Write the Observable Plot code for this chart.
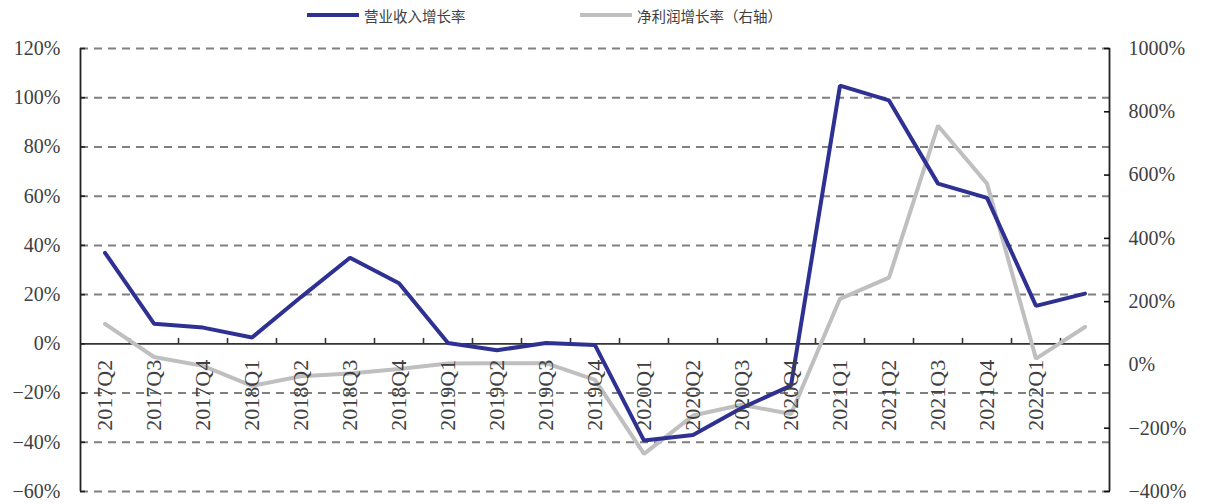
<!DOCTYPE html>
<html>
<head>
<meta charset="utf-8">
<script src="https://cdn.jsdelivr.net/npm/d3@7"></script>
<script src="https://cdn.jsdelivr.net/npm/@observablehq/plot@0.6"></script>
<style>
  html, body { margin: 0; padding: 0; background: #fff; }
  #wrap { position: relative; width: 1205px; height: 504px; overflow: hidden; }
  #chart { position: absolute; left: 0; top: 0; }
  .leg { position: absolute; top: 4px; height: 22px; display: flex; align-items: center;
         font-family: "Noto Sans CJK SC", sans-serif; font-size: 14.5px; color: #404040; }
  .leg .sw { width: 52px; height: 4px; margin-right: 5px; }
</style>
</head>
<body>
<div id="wrap">
  <div id="chart"></div>
  <div class="leg" style="left:307px"><span class="sw" style="background:#2E3192"></span><span>营业收入增长率</span></div>
  <div class="leg" style="left:580px"><span class="sw" style="background:#BFBFBF"></span><span>净利润增长率（右轴）</span></div>
</div>
<script>
// Categories (quarters); the last one carries no tick label in the original
const quarters = ["2017Q2","2017Q3","2017Q4","2018Q1","2018Q2","2018Q3","2018Q4",
  "2019Q1","2019Q2","2019Q3","2019Q4","2020Q1","2020Q2","2020Q3","2020Q4",
  "2021Q1","2021Q2","2021Q3","2021Q4","2022Q1","2022Q2"];
const tickLabels = ["2017Q2","2017Q3","2017Q4","2018Q1","2018Q2","2018Q3","2018Q4",
  "2019Q1","2019Q2","2019Q3","2019Q4","2020Q1","2020Q2","2020Q3","2020Q4",
  "2021Q1","2021Q2","2021Q3","2021Q4","2022Q1"];
// 营业收入增长率 (%), left axis
const revenueGrowth = [37, 8.2, 6.6, 2.6, 19, 35, 24.6, 0.3, -2.6, 0.3, -0.5,
  -39.3, -37, -26, -17, 104.9, 98.9, 65.1, 59.3, 15.4, 20.4];
// 净利润增长率 (%), right axis
const profitGrowth = [130, 25, -3, -66, -36, -27, -13, 4.5, 5.5, 5.5, -47,
  -281, -160, -126, -155, 209, 276, 756, 573, 20, 120];
const leftTicks = [-60, -40, -20, 0, 20, 40, 60, 80, 100, 120];
const rightTicks = [-400, -200, 0, 200, 400, 600, 800, 1000];
const leftDomain = [-60, 120];
const rightDomain = [-400, 1000];

const toLeft = r => leftDomain[0] + (r - rightDomain[0]) * (leftDomain[1] - leftDomain[0]) / (rightDomain[1] - rightDomain[0]);
const toRight = l => rightDomain[0] + (l - leftDomain[0]) * (rightDomain[1] - rightDomain[0]) / (leftDomain[1] - leftDomain[0]);
const pct = v => (v < 0 ? "\u2212" + Math.abs(v) : String(v)) + "%";

const boundaries = tickLabels.map((q, i) => i + 0.5);
const numFont = "'Liberation Serif', 'DejaVu Serif', serif";

const chart = Plot.plot({
  width: 1205,
  height: 504,
  marginTop: 48,
  marginBottom: 13,
  marginLeft: 80,
  marginRight: 96,
  x: {type: "linear", domain: [-0.5, quarters.length - 0.5], axis: null},
  y: {type: "linear", domain: leftDomain, axis: null},
  style: {background: "#fff", overflow: "visible"},
  marks: [
    Plot.ruleY(leftTicks.filter(d => d !== 0), {stroke: "#808080", strokeWidth: 2, strokeDasharray: "8,6"}),
    Plot.ruleY([0], {stroke: "#333", strokeWidth: 1.8}),
    Plot.ruleX(boundaries, {y1: 0, y2: 2.2, stroke: "#333", strokeWidth: 1.6}),
    Plot.ruleX([-0.5, quarters.length - 0.5], {stroke: "#222", strokeWidth: 1.8}),
    Plot.axisY(leftTicks, {anchor: "left", tickSize: -5, tickPadding: 25, stroke: "#222",
      tickFormat: pct, fontSize: 20, fontFamily: numFont, fill: "#404040", strokeWidth: 1.6}),
    Plot.axisY(rightTicks.map(toLeft), {anchor: "right", tickSize: -6, tickPadding: 25, stroke: "#111",
      tickFormat: d => pct(Math.round(toRight(d))), fontSize: 20, fontFamily: numFont, fill: "#404040",
      textAnchor: "start", strokeWidth: 1.6}),
    Plot.line(profitGrowth, {x: (d, i) => i, y: d => toLeft(d), stroke: "#BFBFBF", strokeWidth: 4, strokeLinejoin: "miter"}),
    Plot.line(revenueGrowth, {x: (d, i) => i, y: d => d, stroke: "#2E3192", strokeWidth: 4, strokeLinejoin: "miter"}),
    Plot.text(tickLabels, {x: (d, i) => i, y: 0, text: d => d, rotate: -90, textAnchor: "end",
      lineAnchor: "middle", dy: 16, fontSize: 22, fontFamily: numFont, fill: "#404040"})
  ]
});
document.getElementById("chart").appendChild(chart);
</script>
</body>
</html>
